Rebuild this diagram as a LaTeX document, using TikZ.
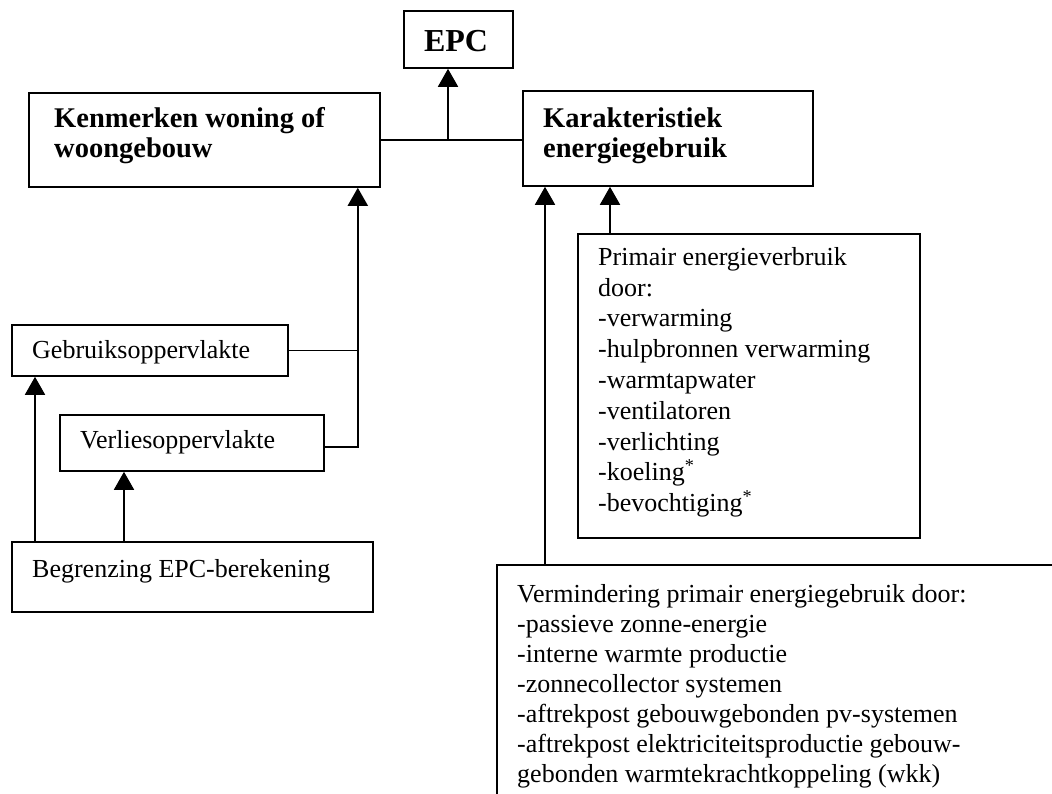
\documentclass[tikz,border=0pt]{standalone}
\usepackage{fontspec}
\setmainfont{Liberation Serif}
\usetikzlibrary{arrows.meta}
\begin{document}
\begin{tikzpicture}[x=1pt,y=-1pt,
  box/.style={draw, line width=1.8pt, anchor=north west, inner sep=0pt},
  txt/.style={inner sep=0pt, font=\fontsize{26}{30.8}\selectfont},
  btxt/.style={inner sep=0pt, font=\fontsize{28.5}{30}\selectfont\bfseries},
  conn/.style={line width=1.8pt},
  arr/.style={line width=1.8pt, -{Triangle[length=18pt,width=20pt]}}]
\useasboundingbox (0,0) rectangle (1052,794);
\clip (0,0) rectangle (1052,794);
% boxes
\node[box, minimum width=109pt, minimum height=57pt] (epc) at (403,10) {};
\node[box, minimum width=351pt, minimum height=94pt] (ken) at (28,92) {};
\node[box, minimum width=290pt, minimum height=95pt] (kar) at (522,90) {};
\node[box, minimum width=276pt, minimum height=51pt] (geb) at (11,324) {};
\node[box, minimum width=264pt, minimum height=56pt] (ver) at (59,414) {};
\node[box, minimum width=361pt, minimum height=70pt] (bgr) at (11,541) {};
\node[box, minimum width=342pt, minimum height=304pt] (prim) at (577,233) {};
\node[box, minimum width=700pt, minimum height=400pt] (red) at (496,564) {};
% texts
\node[inner sep=0pt, font=\fontsize{32}{36}\selectfont\bfseries, anchor=base] (tepc) at (456,52) {EPC};
\node[btxt, anchor=north west, align=left] (tken) at (54,107) {Kenmerken woning of\\woongebouw};
\node[btxt, anchor=north west, align=left] (tkar) at (543,108) {Karakteristiek\\energiegebruik};
\node[txt, anchor=base west] (tgeb) at (32,358) {Gebruiksoppervlakte};
\node[txt, anchor=base west] (tver) at (80,448) {Verliesoppervlakte};
\node[txt, anchor=base west] (tbgr) at (32,577) {Begrenzing EPC-berekening};
\node[txt, anchor=north west, align=left] (tprim) at (598,247) {Primair energieverbruik\\door:\\-verwarming\\-hulpbronnen verwarming\\-warmtapwater\\-ventilatoren\\-verlichting\\-koeling\textsuperscript{*}\\-bevochtiging\textsuperscript{*}};
\node[txt, anchor=north west, align=left, font=\fontsize{26}{30}\selectfont] (tred) at (517,584) {Vermindering primair energiegebruik door:\\-passieve zonne-energie\\-interne warmte productie\\-zonnecollector systemen\\-aftrekpost gebouwgebonden pv-systemen\\-aftrekpost elektriciteitsproductie gebouw-\\gebonden warmtekrachtkoppeling (wkk)};
% connector points
\coordinate (epcin) at ([xshift=45pt]epc.south west);
\coordinate (kenin) at ([xshift=-23pt]ken.south east);
\coordinate (verout) at ([yshift=-4pt]ver.east);
% connectors
\draw[conn] (ken.east) -- (ken.east -| kar.west);
\draw[arr] (epcin |- ken.east) -- (epcin);
\draw[conn] (geb.east) -- (geb.east -| kenin);
\draw[arr] (verout) -| (kenin);
\draw[arr] ([xshift=24pt]bgr.north west) -- ([xshift=24pt]geb.south west);
\draw[arr] ([xshift=113pt]bgr.north west) -- ([xshift=65pt]ver.south west);
\draw[arr] ([xshift=49pt]red.north west) -- ([xshift=23pt]kar.south west);
\draw[arr] ([xshift=33pt]prim.north west) -- ([xshift=88pt]kar.south west);
\end{tikzpicture}
\end{document}
